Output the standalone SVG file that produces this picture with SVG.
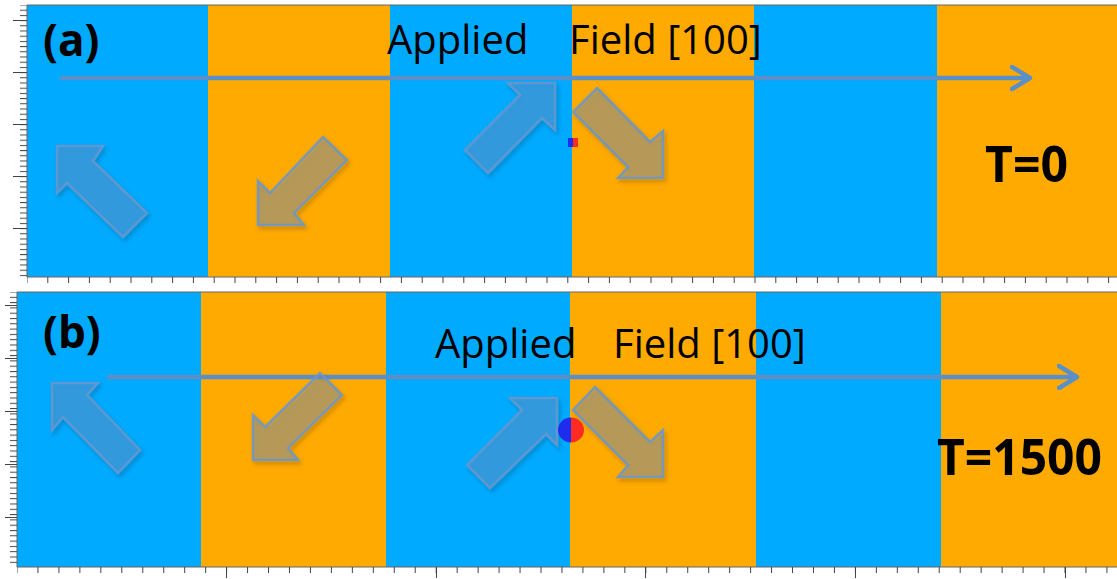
<svg xmlns="http://www.w3.org/2000/svg" width="1117" height="579" viewBox="0 0 1117 579">
<style>
.blue{fill:#00aaff}
.orange{fill:#ffaa00}
.blk{fill:rgb(110,145,195);fill-opacity:0.42;stroke:rgb(105,150,205);stroke-width:2.5;stroke-opacity:0.85;stroke-linejoin:miter;filter:url(#sh)}
.field{stroke:#5b8fc8;stroke-width:4.5;stroke-linecap:round;fill:none;marker-end:url(#chev)}
.lbl{font-family:"Open Sans","Noto Sans","Liberation Sans",sans-serif;font-size:40px;fill:#000}
.bold{font-family:"Open Sans","Noto Sans","Liberation Sans",sans-serif;font-weight:bold;fill:#000}
.tk{stroke:#444;stroke-width:1;fill:none}
.frame{fill:none;stroke:#666;stroke-width:1}
</style>
<defs>
<marker id="chev" viewBox="0 0 24 26" refX="19" refY="13" markerWidth="24" markerHeight="26" markerUnits="userSpaceOnUse" orient="auto">
<path d="M2,2 L20,13 L2,24" fill="none" stroke="#5b8fc8" stroke-width="4.5" stroke-linecap="round" stroke-linejoin="round"/>
</marker>
<filter id="sh" x="-20%" y="-20%" width="140%" height="140%">
<feDropShadow dx="2" dy="3" stdDeviation="2" flood-color="#000" flood-opacity="0.25"/>
</filter>
<pattern id="tvA" x="20" y="4.5" width="8" height="5.2" patternUnits="userSpaceOnUse"><line x1="0" y1="0.5" x2="8" y2="0.5" stroke="#444" stroke-width="1"/></pattern>
<pattern id="tvB" x="10" y="291.5" width="8" height="5.3" patternUnits="userSpaceOnUse"><line x1="0" y1="0.5" x2="8" y2="0.5" stroke="#444" stroke-width="1"/></pattern>
<pattern id="thA" x="26.5" y="277" width="20.8" height="7" patternUnits="userSpaceOnUse"><line x1="0.5" y1="0" x2="0.5" y2="7" stroke="#444" stroke-width="1"/></pattern>
<pattern id="thB" x="16.5" y="567" width="20.96" height="7" patternUnits="userSpaceOnUse"><line x1="0.5" y1="0" x2="0.5" y2="7" stroke="#444" stroke-width="1"/></pattern>
</defs>
<rect width="1117" height="579" fill="#ffffff"/>

<g id="panel-a">
<rect class="blue" x="27" y="5" width="181" height="272"/>
<rect class="orange" x="208" y="5" width="182" height="272"/>
<rect class="blue" x="390" y="5" width="182" height="272"/>
<rect class="orange" x="572" y="5" width="182" height="272"/>
<rect class="blue" x="754" y="5" width="183" height="272"/>
<rect class="orange" x="937" y="5" width="180" height="272"/>
<path class="frame" d="M1117,5 H27 V277 H1117"/>
<rect x="20" y="5" width="7" height="272" fill="url(#tvA)"/>
<path class="tk" d="M13,20.5 H27 M13,72.5 H27 M13,124.5 H27 M13,176.5 H27 M13,228.5 H27"/>
<rect x="27" y="277" width="1090" height="6" fill="url(#thA)"/>
</g>

<g id="panel-b">
<rect class="blue" x="17" y="292" width="184" height="275"/>
<rect class="orange" x="201" y="292" width="185" height="275"/>
<rect class="blue" x="386" y="292" width="184" height="275"/>
<rect class="orange" x="570" y="292" width="186" height="275"/>
<rect class="blue" x="756" y="292" width="185" height="275"/>
<rect class="orange" x="941" y="292" width="176" height="275"/>
<path class="frame" d="M1117,292 H17 V567 H1117"/>
<rect x="10" y="292" width="7" height="275" fill="url(#tvB)"/>
<path class="tk" d="M5,305.5 H17 M5,358.5 H17 M5,411.5 H17 M5,464.5 H17 M5,517.5 H17"/>
<rect x="17" y="567" width="1100" height="6" fill="url(#thB)"/>
<path class="tk" d="M226.5,567 V578 M436.5,567 V578 M645.5,567 V578 M855.5,567 V578 M1065.5,567 V578"/>
</g>

<g id="connectors">
<line class="field" x1="62" y1="78" x2="1029" y2="78"/>
<line class="field" x1="109" y1="377" x2="1076" y2="377"/>
</g>

<g id="label-a"><text class="bold" x="43" y="56" font-size="44">(a)</text></g>
<g id="label-b"><text class="bold" x="43" y="348" font-size="44">(b)</text></g>
<g id="field-label-a">
<text class="lbl" x="387" y="54">Applied</text>
<text class="lbl" x="569" y="54">Field [100]</text>
</g>
<g id="field-label-b">
<text class="lbl" x="435" y="358">Applied</text>
<text class="lbl" x="613" y="358">Field [100]</text>
</g>
<g id="time-a"><text class="bold" x="985" y="182" font-size="50" textLength="83" lengthAdjust="spacingAndGlyphs">T=0</text></g>
<g id="time-b"><text class="bold" x="937" y="475" font-size="50" textLength="165" lengthAdjust="spacingAndGlyphs">T=1500</text></g>

<g id="arrow-a1"><polygon class="blk" points="57,146 103,146 93,161 147,213 123,237 67,183 57,193"/></g>
<g id="arrow-a2"><polygon class="blk" points="258,225 258,181 270,193 323,137 347,160 294,213 304,225"/></g>
<g id="arrow-a3"><polygon class="blk" points="555,83 508,83 520,95 465,150 488,173 542,118 555,130"/></g>
<g id="arrow-a4"><polygon class="blk" points="597,88 650,142 663,131 663,178 618,178 628,167 573,112"/></g>

<g id="arrow-b1"><polygon class="blk" points="52,383 98,383 87,395 140,450 118,473 63,417 52,430"/></g>
<g id="arrow-b2"><polygon class="blk" points="253,460 253,415 265,427 320,373 342,395 288,448 298,460"/></g>
<g id="arrow-b3"><polygon class="blk" points="557,398 510,398 522,410 467,465 490,488 546,434 557,445"/></g>
<g id="arrow-b4"><polygon class="blk" points="595,387 650,442 663,430 663,477 618,477 628,465 573,410"/></g>

<g id="defect-a">
<rect x="568" y="138" width="5" height="9" fill="#1e2cf0"/>
<rect x="573" y="138" width="5" height="9" fill="#ff2a20"/>
</g>
<g id="defect-b">
<path d="M571,417.5 A13,12.5 0 0 0 571,442.5 Z" fill="#1e2cf0"/>
<path d="M571,417.5 A13,12.5 0 0 1 571,442.5 Z" fill="#ff2a20"/>
</g>
</svg>
